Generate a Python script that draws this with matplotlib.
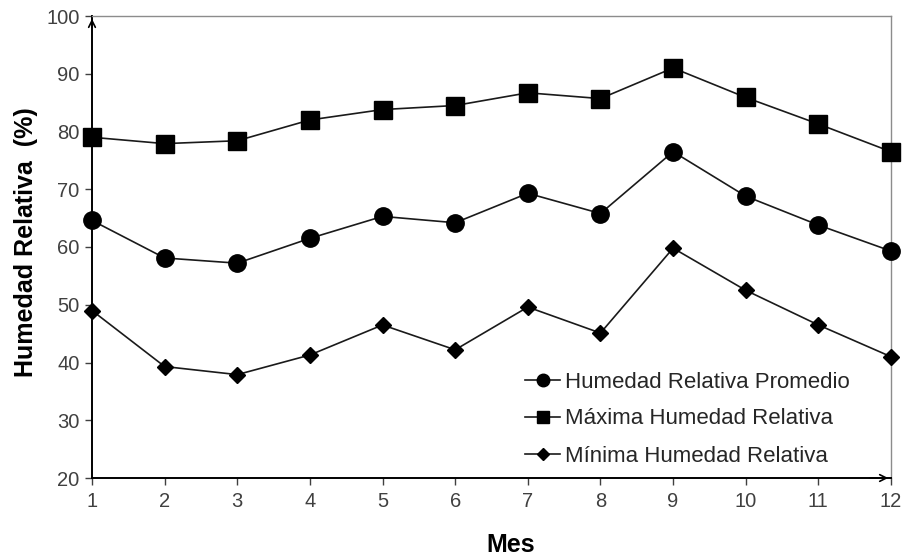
import matplotlib
matplotlib.use("Agg")
import matplotlib.pyplot as plt

plt.rcParams['font.family'] = ['Liberation Sans', 'DejaVu Sans']

meses = [1, 2, 3, 4, 5, 6, 7, 8, 9, 10, 11, 12]
promedio = [64.6, 58.1, 57.2, 61.5, 65.3, 64.2, 69.3, 65.8, 76.5, 68.8, 63.8, 59.3]
maxima = [79.0, 77.9, 78.4, 82.0, 83.8, 84.5, 86.7, 85.7, 91.0, 85.9, 81.3, 76.5]
minima = [49.0, 39.3, 37.9, 41.3, 46.5, 42.2, 49.6, 45.1, 59.8, 52.5, 46.5, 41.0]
y_ticks = [20, 30, 40, 50, 60, 70, 80, 90, 100]

fig = plt.figure(figsize=(9.03, 5.57), dpi=100)
ax = fig.add_axes([92/903, 1-478/557, (891-92)/903, (478-16)/557])

lc = '#1a1a1a'
ax.plot(meses, promedio, color=lc, lw=1.2, marker='o', ms=12.5, mfc='black', mec='black',
        label='Humedad Relativa Promedio', clip_on=False, zorder=3)
ax.plot(meses, maxima, color=lc, lw=1.2, marker='s', ms=12.5, mfc='black', mec='black',
        label='Máxima Humedad Relativa', clip_on=False, zorder=3)
ax.plot(meses, minima, color=lc, lw=1.2, marker='D', ms=8.5, mfc='black', mec='black',
        label='Mínima Humedad Relativa', clip_on=False, zorder=3)

ax.set_xlim(1, 12)
ax.set_ylim(20, 100)
ax.set_xticks(meses)
ax.set_yticks(y_ticks)
ax.tick_params(axis='both', direction='out', length=5, width=1, color='#404040',
               labelsize=14.5, labelcolor='#404040')
ax.tick_params(axis='x', pad=5)
ax.tick_params(axis='y', pad=4)

for s in ['top', 'right']:
    ax.spines[s].set_color('#8c8c8c')
    ax.spines[s].set_linewidth(1.0)
for s in ['left', 'bottom']:
    ax.spines[s].set_color('black')
    ax.spines[s].set_linewidth(1.4)

# arrow heads at the ends of the axes
ax.annotate('', xy=(0, 1.0), xytext=(0, 0.97), xycoords='axes fraction',
            arrowprops=dict(arrowstyle='->', color='black', lw=1.2, mutation_scale=12))
ax.annotate('', xy=(1.0, 0), xytext=(0.97, 0), xycoords='axes fraction',
            arrowprops=dict(arrowstyle='->', color='black', lw=1.2, mutation_scale=12))

leg = ax.legend(loc='center left', bbox_to_anchor=((525-92)/799, (478-419)/462),
                frameon=False, fontsize=16, markerscale=0.72, handlelength=1.58,
                handletextpad=0.2, labelspacing=0.72, borderaxespad=0, borderpad=0)
for t in leg.get_texts():
    t.set_color('#262626')

fig.text(26/903, 1-242/557, 'Humedad Relativa  (%)', rotation=90, ha='center', va='center',
         fontsize=18, fontweight='bold')
fig.text(511/903, 1-545/557, 'Mes', ha='center', va='center', fontsize=18, fontweight='bold')

fig.savefig('out.png', dpi=100)
